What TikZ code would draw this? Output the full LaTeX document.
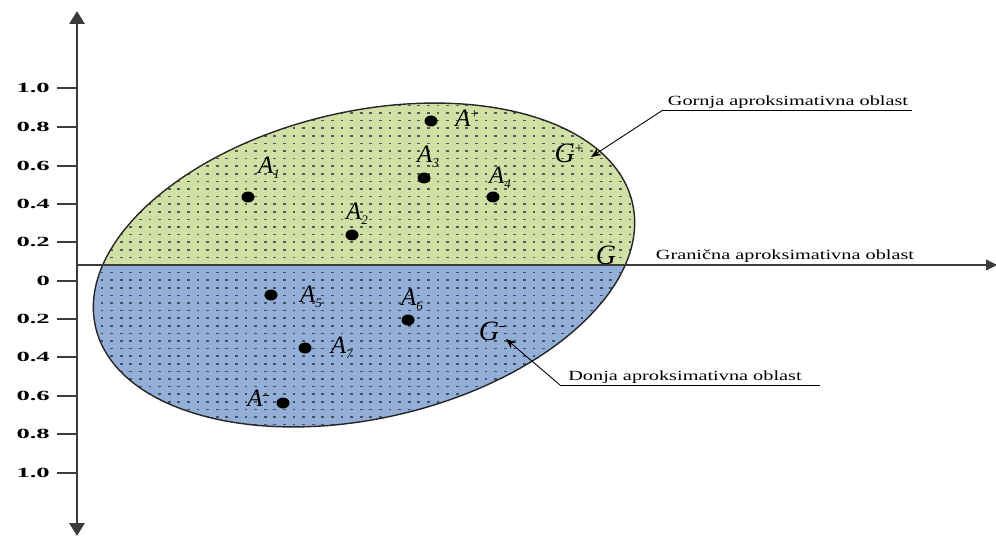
\documentclass[tikz,border=0pt]{standalone}
\usepackage{fontspec}
\setmainfont{Liberation Serif}
\newfontfamily\axisfont[FakeStretch=1.9]{Liberation Serif}
\newfontfamily\notefont[FakeStretch=1.45]{Liberation Serif}
\usetikzlibrary{arrows.meta,shapes.geometric}
\definecolor{upperfill}{RGB}{210,224,166}
\definecolor{lowerfill}{RGB}{148,175,215}
\definecolor{dotink}{RGB}{40,50,65}
\definecolor{axisgray}{RGB}{60,60,60}
\newcommand{\Asub}[1]{\textit{A}\raisebox{-0.4ex}{\fontsize{13}{13}\selectfont\textit{#1}}}
\newcommand{\Asup}[1]{\textit{A}\raisebox{0.7ex}{\fontsize{14}{14}\selectfont #1}}
\newcommand{\Gsup}[1]{\textit{G}\raisebox{0.7ex}{\fontsize{15}{15}\selectfont #1}}
\newcommand{\minusbar}{\rule{6pt}{1.1pt}}
\begin{document}
\begin{tikzpicture}[x=1pt,y=-1pt,
  ptdot/.style={ellipse,fill=black,inner sep=0pt,minimum width=13pt,minimum height=11pt},
  alabel/.style={font=\fontsize{25}{25}\selectfont,inner sep=0pt},
  glabel/.style={font=\fontsize{28}{28}\selectfont,inner sep=0pt},
  ticklabel/.style={font=\axisfont\bfseries\fontsize{14}{14}\selectfont,anchor=east,inner sep=0pt},
  note/.style={font=\notefont\fontsize{14}{14}\selectfont,inner sep=1pt},
  leader/.style={line width=0.9pt,black},
  tip/.style={-{Stealth[length=10pt,width=8pt]}}]
\useasboundingbox (0,0) rectangle (996,540);

% axes end points
\coordinate (ytop) at (77,11);
\coordinate (ybot) at (77,536);
\coordinate (xorig) at (77,265);
\coordinate (xend) at (997,265);
\coordinate (C) at (364,265);

% ellipse: green upper part, blue lower part, dotted texture
\begin{scope}
  \clip[rotate around={13:(C)}] (C) ellipse [x radius=275.5, y radius=153.5];
  \fill[upperfill] (80,80) rectangle (650,265);
  \fill[lowerfill] (80,265) rectangle (650,450);
  \foreach \i in {0,...,58}
    \foreach \j in {0,...,45}
      \fill[dotink,opacity=0.75] ({91+9.6*\i},{97+7.6*\j}) rectangle ++(2.8,1.6);
\end{scope}
\draw[line width=1.4pt,black!85,rotate around={13:(C)}] (C) ellipse [x radius=275.5, y radius=153.5];

% horizontal boundary line
\draw[line width=1.1pt,axisgray,-{Triangle[length=11pt,width=11pt]}] (xorig) -- (xend);

% vertical axis
\draw[line width=2.8pt,axisgray,{Triangle[length=13pt,width=15pt]}-{Triangle[length=13pt,width=15pt]}] (ybot) -- (ytop);

% ticks and labels
\foreach \yy/\lab [count=\k] in {88/1.0,127/0.8,166/0.6,204/0.4,242/0.2,281/0,319/0.2,357/0.4,396/0.6,434/0.8,473/1.0}{
  \coordinate (t\k) at (57,\yy);
  \coordinate (u\k) at (77,\yy);
  \draw[line width=1.7pt,axisgray] (t\k) -- (u\k);
  \node[ticklabel] (l\k) at (50,\yy) {\lab};
}

% points
\node[ptdot] (pplus) at (431,121) {};
\node[ptdot] (p1) at (248,197) {};
\node[ptdot] (p2) at (352,235) {};
\node[ptdot] (p3) at (424,178) {};
\node[ptdot] (p4) at (493,197) {};
\node[ptdot] (p5) at (271,295) {};
\node[ptdot] (p6) at (408,320) {};
\node[ptdot] (p7) at (305,348) {};
\node[ptdot] (pminus) at (283,403) {};

\node[alabel] (lplus) at (467,118) {\Asup{+}};
\node[alabel] (l1) at (269,168) {\Asub{1}};
\node[alabel] (l2) at (357,214) {\Asub{2}};
\node[alabel] (l3) at (428,157) {\Asub{3}};
\node[alabel] (l4) at (500,178) {\Asub{4}};
\node[alabel] (l5) at (311,297) {\Asub{5}};
\node[alabel] (l6) at (412,300) {\Asub{6}};
\node[alabel] (l7) at (342,348) {\Asub{7}};
\node[alabel] (lminus) at (258,398) {\Asup{\raisebox{0.4ex}{\minusbar}}};

% region labels
\node[glabel] (Gplus) at (569,153) {\Gsup{+}};
\node[glabel] (G0) at (606,255) {\textit{G}};
\node[glabel] (Gminus) at (492,331) {\Gsup{\raisebox{0.6ex}{\minusbar}}};

% annotations with leaders
\coordinate (gl) at (663,110);
\coordinate (gr) at (912,110);
\coordinate (gtip) at (591,157);
\node[note,anchor=south] (gtext) at (788,110) {Gornja aproksimativna oblast};
\draw[leader] (gr) -- (gl);
\draw[leader,tip] (gl) -- (gtip);

\node[note,anchor=south] (btext) at (785,264) {Granična aproksimativna oblast};

\coordinate (dl) at (560,385);
\coordinate (dr) at (820,385);
\coordinate (dtip) at (506,339);
\node[note,anchor=south] (dtext) at (685,385) {Donja aproksimativna oblast};
\draw[leader] (dr) -- (dl);
\draw[leader,tip] (dl) -- (dtip);
\end{tikzpicture}
\end{document}
